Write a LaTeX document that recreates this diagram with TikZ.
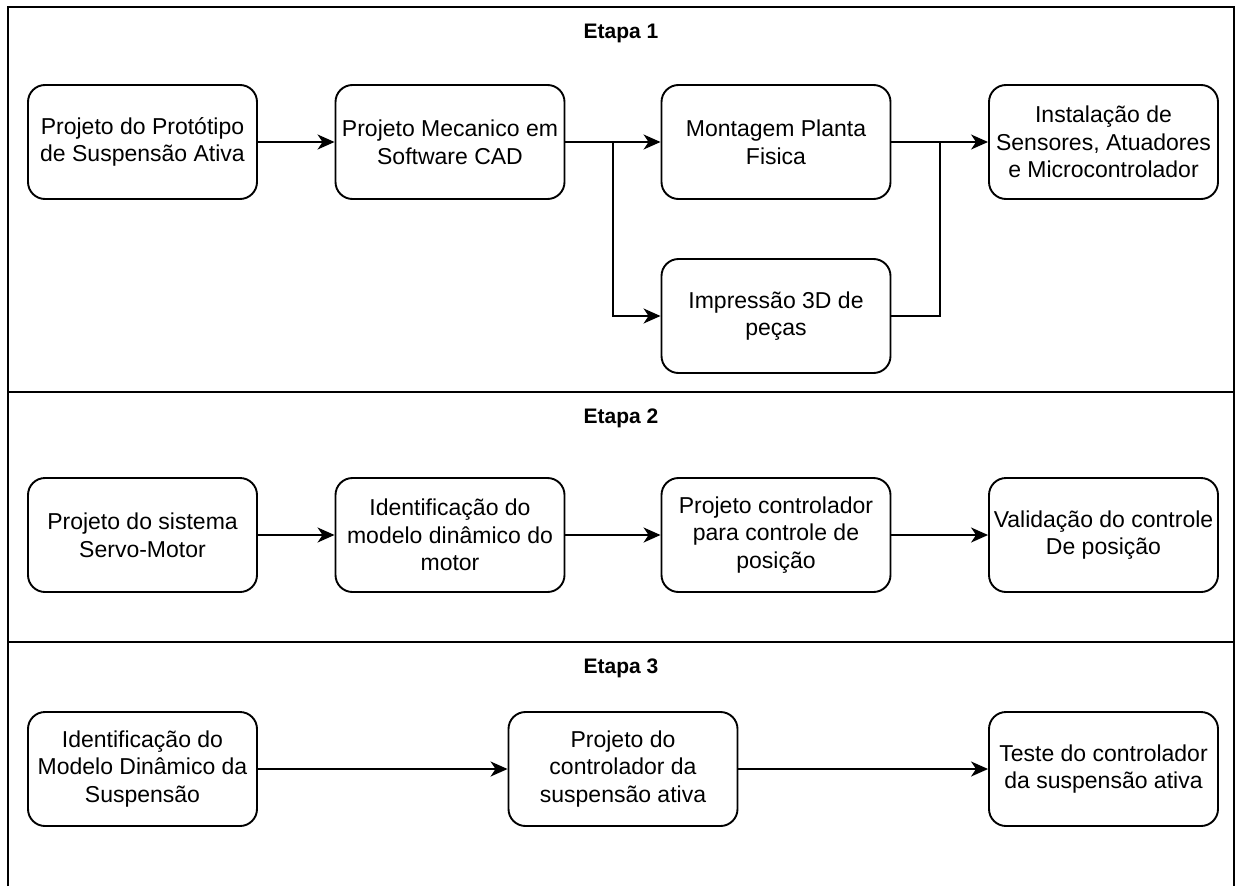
\documentclass[tikz,border=0pt]{standalone}
\usepackage{fontspec}
\setmainfont{Liberation Sans}
\usepackage{tikz}
\usetikzlibrary{arrows.meta,positioning,calc}

\tikzset{
    caixa/.style={draw, rounded corners=17pt, line width=1.9pt, minimum width=229pt, minimum height=114pt,
        align=center, font=\fontsize{23}{27.6}\selectfont},
    etapa/.style={font=\fontsize{21}{25}\selectfont\bfseries},
    seta/.style={line width=1.9pt, -{Stealth[length=17pt, width=15pt, inset=5pt]}},
    linha/.style={line width=1.9pt}
}

\begin{document}
\begin{tikzpicture}[x=1pt, y=-1pt]
    \useasboundingbox (0,0) rectangle (1239,886);
    \draw[line width=2.2pt] (8,886) -- (8,7) -- (1234,7) -- (1234,886);
    \draw[line width=2.2pt] (8,392) -- (1234,392);
    \draw[line width=2.2pt] (8,642) -- (1234,642);

    \node[etapa] (e1) at (621,33) {Etapa 1};
    \node[etapa] (e2) at (621,418) {Etapa 2};
    \node[etapa] (e3) at (621,668) {Etapa 3};

    % Etapa 1
    \node[caixa] (prot) at (142.5,142) {Projeto do Protótipo\\de Suspensão Ativa};
    \node[caixa] (cad) at (450,142) {Projeto Mecanico em\\Software CAD};
    \node[caixa] (mont) at (776,142) {Montagem Planta\\Fisica};
    \node[caixa] (imp) at (776,316) {Impressão 3D de\\peças};
    \node[caixa] (inst) at (1103.5,142) {Instalação de\\Sensores, Atuadores\\e Microcontrolador};
    \coordinate (jA) at (613,142);
    \coordinate (jB) at (940,142);

    \draw[seta] (prot) -- (cad);
    \draw[seta] (cad) -- (mont);
    \draw[seta] (jA) |- (imp.west);
    \draw[seta] (mont) -- (inst);
    \draw[linha] (imp.east) -| (jB);

    % Etapa 2
    \node[caixa] (servo) at (142.5,535) {Projeto do sistema\\Servo-Motor};
    \node[caixa] (ident) at (450,535) {Identificação do\\modelo dinâmico do\\motor};
    \node[caixa] (ctrl) at (776,535) {Projeto controlador\\para controle de\\posição};
    \node[caixa] (valid) at (1103.5,535) {Validação do controle\\De posição};

    \draw[seta] (servo) -- (ident);
    \draw[seta] (ident) -- (ctrl);
    \draw[seta] (ctrl) -- (valid);

    % Etapa 3
    \node[caixa] (modelo) at (142.5,769) {Identificação do\\Modelo Dinâmico da\\Suspensão};
    \node[caixa] (susp) at (623,769) {Projeto do\\controlador da\\suspensão ativa};
    \node[caixa] (teste) at (1103.5,769) {Teste do controlador\\da suspensão ativa};

    \draw[seta] (modelo) -- (susp);
    \draw[seta] (susp) -- (teste);
\end{tikzpicture}
\end{document}
